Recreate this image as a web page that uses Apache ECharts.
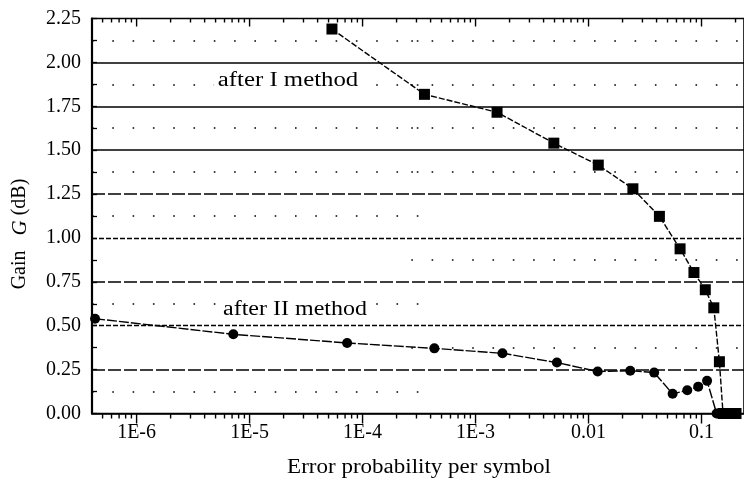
<!DOCTYPE html>
<html>
<head>
    <meta charset="utf-8">
    <script src="https://cdn.jsdelivr.net/npm/echarts@6/dist/echarts.min.js"></script>
</head>
<body style="margin:0">
<div id="main" style="width:744px;height:480px"></div>
<script>
    // error probability per symbol / gain (dB)
    var errI = [5.36e-5, 3.53e-4, 1.55e-3, 4.93e-3, 0.0122, 0.0247, 0.0424, 0.0646, 0.0857, 0.108, 0.1285, 0.144, 0.155, 0.165, 0.175, 0.19, 0.202];
    var gainI = [2.19, 1.818, 1.716, 1.54, 1.415, 1.28, 1.123, 0.938, 0.803, 0.705, 0.602, 0.295, 0, 0, 0, 0, 0];
    var errII = [4.29e-7, 7.18e-6, 7.3e-5, 4.32e-4, 1.73e-3, 5.25e-3, 0.01205, 0.0234, 0.0381, 0.0555, 0.0748, 0.0935, 0.112, 0.136, 0.149, 0.161, 0.175, 0.19];
    var gainII = [0.54, 0.451, 0.402, 0.371, 0.343, 0.29, 0.239, 0.244, 0.233, 0.112, 0.132, 0.153, 0.186, 0, 0, 0, 0, 0];

    var xMin = 4.03e-7, xMax = 0.2377;

    // horizontal reference lines
    var solidRows = [2.0, 1.75, 1.5];
    var longDashRows = [1.25, 0.75, 0.25];
    var shortDashRows = [1.0, 0.5];
    var dotRowsLeft = [2.125, 1.875, 1.625, 1.375, 1.125, 0.625, 0.125];
    var dotRowsRight = [2.125, 1.875, 1.625, 1.375, 0.875, 0.375];
    var dotLeftEnd = 4.4e-4, dotRightStart = 2.7e-4;

    var serif = '"Liberation Serif", "DejaVu Serif", serif';

    var toPairs = function (xs, ys) {
        var res = [];
        for (var i = 0; i < xs.length; i++) {
            res.push([xs[i], ys[i]]);
        }
        return res;
    };

    // tick list for the log axis (major + 2..9 minors)
    var tickData = [];
    for (var n = -7; n <= -1; n++) {
        for (var k = 1; k <= 9; k++) {
            var v = k * Math.pow(10, n);
            if (v >= xMin && v <= xMax) tickData.push([v, k === 1 ? 1 : 0]);
        }
    }

    var lines = [];
    solidRows.forEach(function (y) {
        lines.push({yAxis: y, lineStyle: {type: 'solid', width: 1.5}});
    });
    longDashRows.forEach(function (y) {
        lines.push({yAxis: y, lineStyle: {type: [13, 3], width: 1.5}});
    });
    shortDashRows.forEach(function (y) {
        lines.push({yAxis: y, lineStyle: {type: [5, 2], width: 1.3}});
    });
    dotRowsLeft.forEach(function (y) {
        lines.push([{coord: [xMin, y], lineStyle: {type: [1.6, 18.7], width: 1.6}}, {coord: [dotLeftEnd, y]}]);
    });
    dotRowsRight.forEach(function (y) {
        lines.push([{coord: [dotRightStart, y], lineStyle: {type: [1.6, 18.7], width: 1.6}}, {coord: [xMax, y]}]);
    });

    var chart = echarts.init(document.getElementById('main'));

    var option = {
        animation: false,
        grid: {
            left: 92,
            right: -3,
            top: 18.5,
            bottom: 66.5,
            show: true,
            borderColor: '#000',
            borderWidth: 1.6
        },
        xAxis: {
            type: 'log',
            min: xMin,
            max: xMax,
            axisLine: {lineStyle: {color: '#000', width: 1.6}},
            axisTick: {show: false},
            minorTick: {show: false},
            splitLine: {show: false},
            axisLabel: {
                color: '#000',
                fontFamily: serif,
                fontSize: 20,
                margin: 9,
                showMinLabel: false,
                showMaxLabel: false,
                formatter: function (v) {
                    var e = Math.log(v) / Math.LN10;
                    var r = Math.round(e);
                    if (Math.abs(e - r) > 1e-6) return '';
                    if (r === -1) return '0.1';
                    if (r === -2) return '0.01';
                    return '1E' + r;
                }
            }
        },
        yAxis: {
            type: 'value',
            min: 0,
            max: 2.25,
            interval: 0.25,
            axisLine: {show: true, lineStyle: {color: '#000', width: 2.2}},
            axisTick: {show: true, inside: true, length: 5, lineStyle: {color: '#000', width: 1.3}},
            minorTick: {show: true, splitNumber: 2, length: 5, lineStyle: {color: '#000', width: 1.3}},
            splitLine: {show: false},
            axisLabel: {
                color: '#000',
                fontFamily: serif,
                fontSize: 20,
                margin: 11,
                formatter: function (v) {
                    return v.toFixed(2);
                }
            }
        },
        series: [
            {
                name: 'after I method',
                type: 'line',
                data: toPairs(errI, gainI),
                symbol: 'rect',
                symbolSize: 11,
                clip: false,
                itemStyle: {color: '#000'},
                lineStyle: {color: '#000', width: 1.4, type: [6, 2]},
                z: 5,
                markLine: {
                    silent: true,
                    symbol: ['none', 'none'],
                    label: {show: false},
                    lineStyle: {color: '#000'},
                    data: lines,
                    z: 1
                }
            },
            {
                name: 'after II method',
                type: 'line',
                data: toPairs(errII, gainII),
                symbol: 'circle',
                symbolSize: 10,
                clip: false,
                itemStyle: {color: '#000'},
                lineStyle: {color: '#000', width: 1.4, type: [10, 2]},
                z: 5
            },
            {
                type: 'custom',
                data: tickData,
                clip: false,
                silent: true,
                renderItem: function (params, api) {
                    var v = api.value(0);
                    var major = api.value(1) === 1;
                    var b = api.coord([v, 0]);
                    var t = api.coord([v, 2.25]);
                    var st = {stroke: '#000', lineWidth: 1.4};
                    return {
                        type: 'group',
                        children: [
                            {type: 'line', shape: {x1: b[0], y1: b[1], x2: b[0], y2: b[1] + (major ? 10 : 5)}, style: st},
                            {type: 'line', shape: {x1: t[0], y1: t[1], x2: t[0], y2: t[1] + (major ? 8 : 4)}, style: st}
                        ]
                    };
                }
            }
        ],
        graphic: [
            {
                type: 'text',
                x: 288,
                y: 81,
                scaleX: 1.24,
                z: 10,
                style: {
                    text: 'after I method',
                    fontFamily: serif,
                    fontSize: 20,
                    fill: '#000',
                    align: 'center',
                    verticalAlign: 'middle',
                    textAlign: 'center',
                    textVerticalAlign: 'middle',
                    backgroundColor: '#fff',
                    padding: [0, 3]
                }
            },
            {
                type: 'text',
                x: 295,
                y: 310,
                scaleX: 1.2,
                z: 10,
                style: {
                    text: 'after II method',
                    fontFamily: serif,
                    fontSize: 20,
                    fill: '#000',
                    align: 'center',
                    verticalAlign: 'middle',
                    textAlign: 'center',
                    textVerticalAlign: 'middle',
                    backgroundColor: '#fff',
                    padding: [0, 3]
                }
            },
            {
                type: 'text',
                x: 419,
                y: 468,
                scaleX: 1.15,
                style: {
                    text: 'Error probability per symbol',
                    fontFamily: serif,
                    fontSize: 20,
                    fill: '#000',
                    align: 'center',
                    verticalAlign: 'middle',
                    textAlign: 'center',
                    textVerticalAlign: 'middle'
                }
            },
            {
                type: 'text',
                x: 20,
                y: 234,
                rotation: Math.PI / 2,
                style: {
                    text: '{n|Gain}   {i|G} {n|(dB)}',
                    fontFamily: serif,
                    fontSize: 20,
                    fill: '#000',
                    align: 'center',
                    verticalAlign: 'middle',
                    textAlign: 'center',
                    textVerticalAlign: 'middle',
                    rich: {
                        n: {fontFamily: serif, fontSize: 20, fill: '#000', color: '#000'},
                        i: {fontFamily: serif, fontSize: 21, fontStyle: 'italic', fill: '#000', color: '#000'}
                    }
                }
            }
        ]
    };

    chart.setOption(option);
</script>
</body>
</html>
